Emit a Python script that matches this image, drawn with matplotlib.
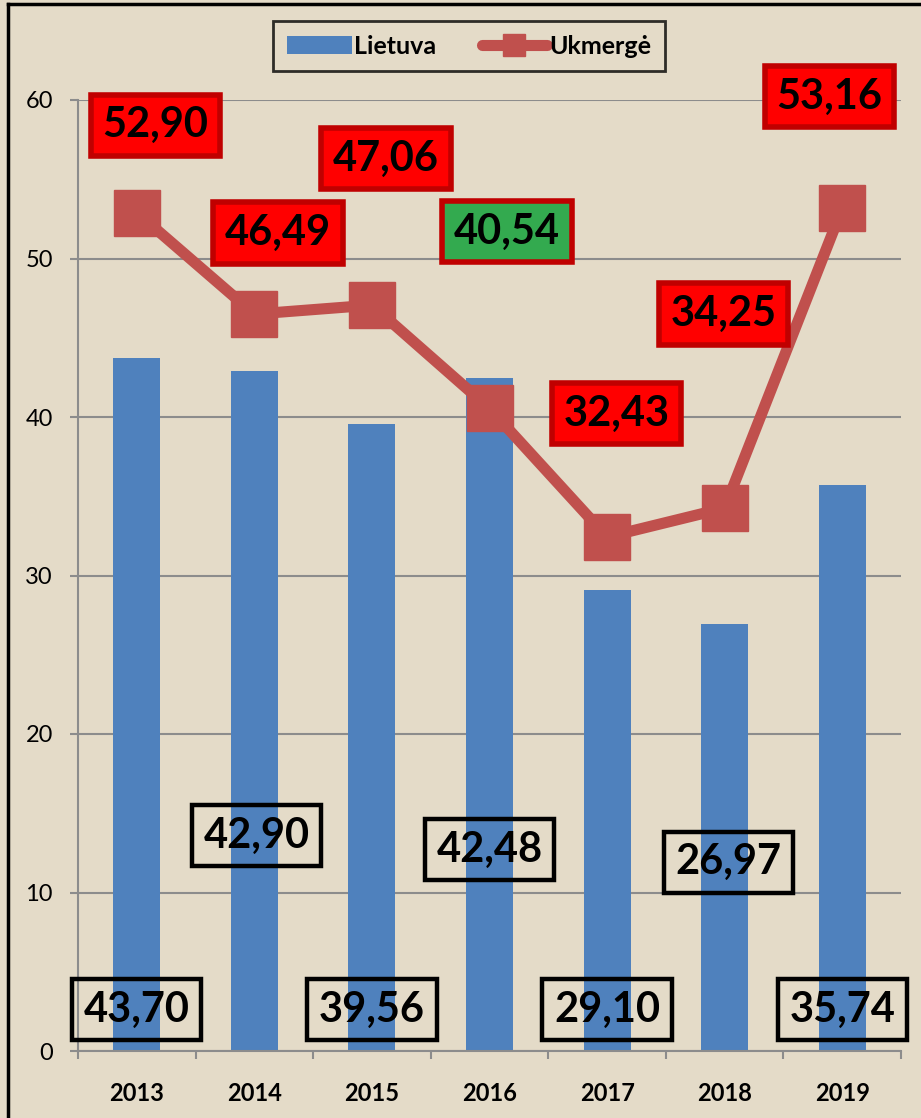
import matplotlib.pyplot as plt
import numpy as np

# data
years = ['2013', '2014', '2015', '2016', '2017', '2018', '2019']
lietuva = [43.70, 42.90, 39.56, 42.48, 29.10, 26.97, 35.74]
ukmerge = [52.90, 46.49, 47.06, 40.54, 32.43, 34.25, 53.16]

# label placement (x offset, y position) in data units
lt_label_x = [0.0, 0.02, 0.0, 0.0, 0.0, 0.03, 0.0]
lt_label_y = [2.6, 13.6, 2.6, 12.7, 2.6, 11.9, 2.6]
uk_label_x = [0.16, 1.2, 2.12, 3.15, 4.08, 4.99, 5.89]
uk_label_y = [58.4, 51.6, 56.3, 51.7, 40.2, 46.5, 60.2]
uk_box_fill = ['#FF0000', '#FF0000', '#FF0000', '#33AA4F', '#FF0000', '#FF0000', '#FF0000']

bg = '#E4DBC8'
blue = '#4F81BD'
red = '#C0504D'
grey = '#8C8C8C'

plt.rcParams['font.family'] = ['Lato', 'DejaVu Sans']

fig = plt.figure(figsize=(9.21, 11.18), dpi=100, facecolor=bg)
ax = fig.add_axes([78 / 921, 1 - 1051 / 1118, (901 - 78) / 921, (1051 - 100) / 1118])
ax.set_facecolor('none')

x = np.arange(len(years))
bars = ax.bar(x, lietuva, width=0.4, color=blue, zorder=2, label='Lietuva')
line, = ax.plot(x, ukmerge, color=red, linewidth=8, marker='s', markersize=33,
                solid_joinstyle='round', solid_capstyle='round', zorder=3, label='Ukmergė')

# data labels
for i, v in enumerate(lietuva):
    ax.text(x[i] + lt_label_x[i], lt_label_y[i], f'{v:.2f}'.replace('.', ','),
            ha='center', va='center', fontsize=30, fontweight='bold', color='black', zorder=5,
            bbox=dict(boxstyle='square,pad=0.28', facecolor='none', edgecolor='black', linewidth=3.2))
for i, v in enumerate(ukmerge):
    ax.text(uk_label_x[i], uk_label_y[i], f'{v:.2f}'.replace('.', ','),
            ha='center', va='center', fontsize=30, fontweight='bold', color='black', zorder=5,
            bbox=dict(boxstyle='square,pad=0.28', facecolor=uk_box_fill[i], edgecolor='#C00000', linewidth=4))

ax.set_xlim(-0.5, 6.5)
ax.set_ylim(0, 60)
ax.set_yticks(range(0, 61, 10))
ax.yaxis.grid(True, color=grey, linewidth=1.5, zorder=0)
ax.set_axisbelow(True)

ax.set_xticks(x)
ax.set_xticklabels(years, fontsize=17, fontweight='bold')
ax.set_xticks(np.arange(-0.5, 7, 1), minor=True)
ax.tick_params(axis='x', which='major', length=0, pad=22)
ax.tick_params(axis='x', which='minor', length=6, color=grey, width=1.5)
ax.tick_params(axis='y', length=6, color=grey, width=1.5, labelsize=17, pad=12)

for s in ['top', 'right']:
    ax.spines[s].set_visible(False)
for s in ['left', 'bottom']:
    ax.spines[s].set_color(grey)
    ax.spines[s].set_linewidth(1.5)

# legend
leg = fig.legend([bars, line], ['Lietuva', 'Ukmergė'], loc='center',
                 bbox_to_anchor=(469 / 921, 1 - 46 / 1118), ncol=2,
                 prop={'weight': 'bold', 'size': 18}, frameon=True, fancybox=False,
                 facecolor=bg, edgecolor='black', handlelength=2.6, handleheight=0.7,
                 handletextpad=0.1, columnspacing=1.8, borderpad=0.55, markerscale=0.5)
leg.get_frame().set_linewidth(2)

# outer border (top and left visible)
fig.add_artist(plt.Line2D([8 / 921, 8 / 921], [0, 1 - 4 / 1118], color='black', linewidth=2.5))
fig.add_artist(plt.Line2D([8 / 921, 1], [1 - 4 / 1118, 1 - 4 / 1118], color='black', linewidth=2.5))

fig.savefig('out.png', dpi=100, facecolor=bg)
